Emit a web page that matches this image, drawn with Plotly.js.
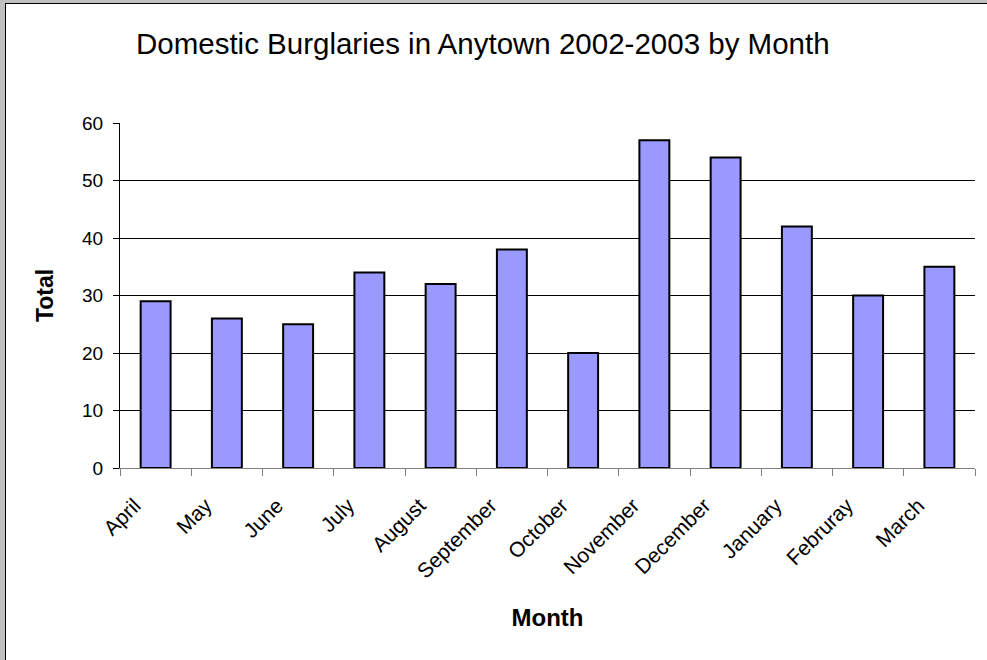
<!DOCTYPE html>
<html>
<head>
<meta charset="utf-8">
<script src="https://cdn.plot.ly/plotly-3.0.1.min.js"></script>
<style>
html,body{margin:0;padding:0;background:#c0c0c0;width:987px;height:660px;overflow:hidden;}
#chart{position:absolute;left:5px;top:3px;width:981px;height:656px;border-left:1px solid #000;border-top:1px solid #000;background:#fff;}
</style>
</head>
<body>
<div id="chart"></div>
<script>
const months = ["April","May","June","July","August","September","October","November","December","January","Februray","March"];
const totals = [29,26,25,34,32,38,20,57,54,42,30,35];
const chartTitle = "Domestic Burglaries in Anytown 2002-2003 by Month";
const xTitle = "Month";
const yTitle = "Total";

const FONT = "Liberation Sans, Arial, sans-serif";

Plotly.newPlot("chart", [{
  type: "bar",
  x: months,
  y: totals,
  width: 0.42,
  marker: {color: "#9999ff", line: {color: "#000000", width: 2}},
  hoverinfo: "x+y"
}], {
  width: 981,
  height: 656,
  margin: {l: 114, r: 12, t: 119, b: 192},
  paper_bgcolor: "#ffffff",
  plot_bgcolor: "#ffffff",
  font: {family: FONT, color: "#000000", size: 19},
  title: {text: chartTitle, font: {family: FONT, size: 29.5, color: "#000"}, x: 0.486, xanchor: "center", xref: "container", y: 0.939, yanchor: "middle", yref: "container"},
  showlegend: false,
  xaxis: {
    type: "category",
    tickson: "boundaries",
    ticks: "outside",
    ticklen: 7,
    tickcolor: "#808080",
    tickwidth: 1,
    showline: true,
    linecolor: "#808080",
    linewidth: 1,
    showgrid: false,
    tickangle: -45,
    ticklabelstandoff: 16,
    ticklabelshift: -21,
    tickfont: {family: FONT, size: 21},
    title: {text: xTitle, font: {family: FONT, size: 24, weight: "bold"}, standoff: 27},
    automargin: false
  },
  yaxis: {
    range: [0, 60],
    dtick: 10,
    tick0: 0,
    ticks: "outside",
    ticklen: 6,
    tickcolor: "#000",
    showline: true,
    linecolor: "#000",
    linewidth: 1,
    showgrid: true,
    gridcolor: "#000",
    gridwidth: 1,
    zeroline: false,
    ticklabelstandoff: 6,
    tickfont: {family: FONT, size: 19},
    title: {text: yTitle, font: {family: FONT, size: 23, weight: "bold"}, standoff: 22},
    automargin: false
  }
}, {displayModeBar: false});
</script>
</body>
</html>
